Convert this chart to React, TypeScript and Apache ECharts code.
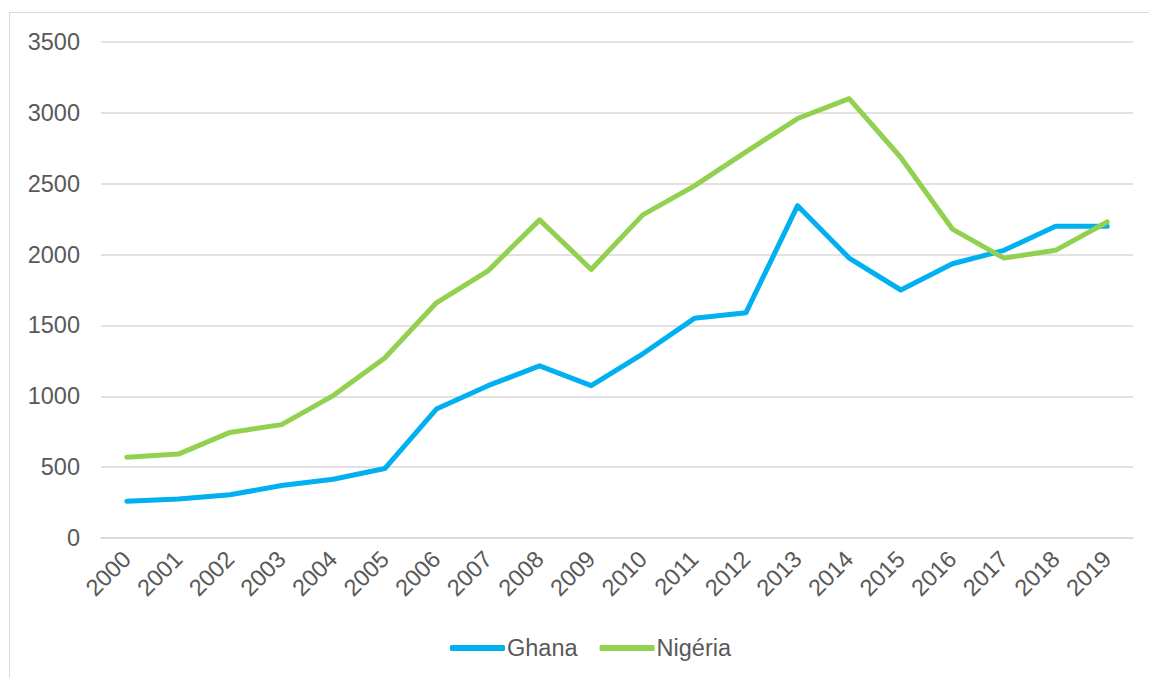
import React, { useEffect, useRef } from "react";
import * as echarts from "echarts";

const years = ["2000","2001","2002","2003","2004","2005","2006","2007","2008","2009","2010","2011","2012","2013","2014","2015","2016","2017","2018","2019"];
const ghana = [260, 275, 305, 370, 415, 490, 910, 1075, 1215, 1075, 1300, 1550, 1590, 2345, 1975, 1750, 1935, 2030, 2200, 2200];
const nigeria = [570, 592, 745, 800, 1005, 1270, 1660, 1885, 2245, 1895, 2280, 2485, 2725, 2960, 3100, 2685, 2180, 1975, 2030, 2230];
const yTicks = { min: 0, max: 3500, interval: 500 };

export default function App() {
  const ref = useRef<HTMLDivElement>(null);
  useEffect(() => {
    const chart = echarts.init(ref.current!, null, { renderer: "svg" });
    const font = "Arial";
    const txt = { color: "#595959", fontSize: 23.5, fontFamily: font };
    chart.setOption({
      animation: false,
      backgroundColor: "#ffffff",
      graphic: [
        {
          type: "rect",
          shape: { x: 9.5, y: 12.5, width: 1200, height: 700 },
          style: { fill: "none", stroke: "#d9d9d9", lineWidth: 1 },
          silent: true,
        },
      ],
      grid: { left: 101, right: 16, top: 42, bottom: 140, containLabel: false },
      legend: {
        left: 445,
        top: 631,
        itemWidth: 55,
        itemHeight: 6,
        itemGap: 22,
        icon: "roundRect",
        textStyle: { ...txt, padding: [0, 0, 0, -3] },
        data: ["Ghana", "Nigéria"],
      },
      xAxis: {
        type: "category",
        data: years,
        boundaryGap: true,
        axisLine: { show: true, lineStyle: { color: "#d9d9d9", width: 1.5 } },
        axisTick: { show: false },
        axisLabel: { ...txt, rotate: 45, margin: 17, interval: 0 },
      },
      yAxis: {
        type: "value",
        min: yTicks.min,
        max: yTicks.max,
        interval: yTicks.interval,
        axisLine: { show: false },
        axisTick: { show: false },
        splitLine: { lineStyle: { color: "#d9d9d9", width: 1.5 } },
        axisLabel: { ...txt, margin: 21, formatter: (v: number) => String(v) },
      },
      series: [
        {
          name: "Ghana",
          type: "line",
          data: ghana,
          symbol: "none",
          lineStyle: { color: "#00b0f0", width: 5, cap: "round", join: "round" },
          itemStyle: { color: "#00b0f0" },
        },
        {
          name: "Nigéria",
          type: "line",
          data: nigeria,
          symbol: "none",
          lineStyle: { color: "#92d050", width: 5, cap: "round", join: "round" },
          itemStyle: { color: "#92d050" },
        },
      ],
    });
    return () => chart.dispose();
  }, []);
  return <div ref={ref} style={{ position: "fixed", left: 0, top: 0, width: 1149, height: 678 }} />;
}
